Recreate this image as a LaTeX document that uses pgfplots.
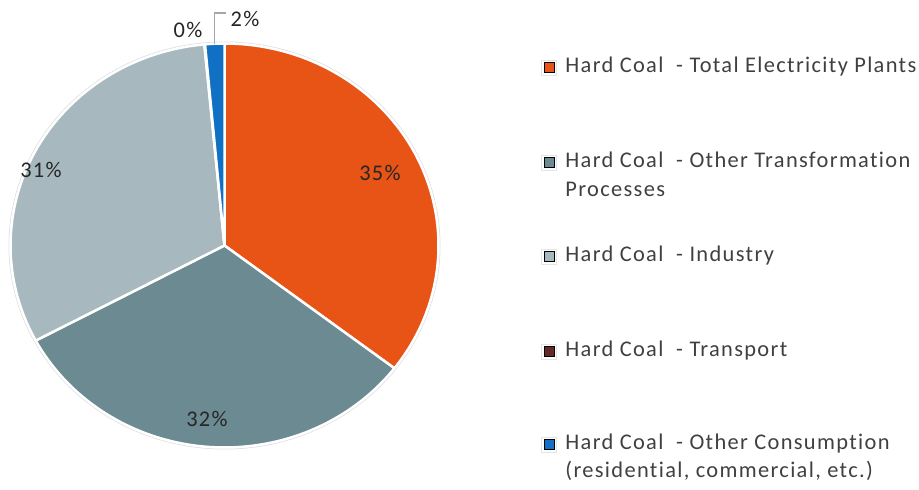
\documentclass[border=0pt]{standalone}
\usepackage{pgfplots}
\pgfplotsset{compat=1.18}
\usepackage{fontspec}
\setmainfont[LetterSpace=6, Ligatures=NoCommon]{Carlito}
\definecolor{cOrange}{HTML}{E85316}
\definecolor{cSteel}{HTML}{6C8A92}
\definecolor{cLight}{HTML}{A7B9BF}
\definecolor{cBrown}{HTML}{652828}
\definecolor{cBlue}{HTML}{1071C4}
\definecolor{cText}{HTML}{404040}
\definecolor{cLbl}{HTML}{262626}
% shares in percent
\def\pA{35.4}  % Total Electricity Plants
\def\pB{31.8}  % Other Transformation Processes
\def\pC{31.3}  % Industry
\def\pD{0.05}  % Transport
\def\pE{1.45}  % Other Consumption
\def\cx{224.5}\def\cy{245.5}\def\rx{214}\def\ry{202}
\tikzset{lbl/.style={font=\fontsize{11.2}{14.5}\selectfont, text=cText, inner sep=0pt},
  dl/.style={lbl, text=cLbl}}
\begin{document}
\begin{tikzpicture}
\begin{axis}[x=0.5pt, y=0.5pt,
  xmin=0, xmax=919, ymin=0, ymax=490, y dir=reverse,
  axis lines=none, clip=false]
% outer faint outline
\addplot[draw=gray!25, line width=0.5pt, domain=0:360, samples=181]
  ({\cx+(\rx+1.5)*sin(x)}, {\cy-(\ry+1.5)*cos(x)});
\addplot[fill=cOrange, draw=white, line width=1.25pt, line join=round, domain=0:{3.6*\pA}, samples=80]
  ({\cx+\rx*sin(x)}, {\cy-\ry*cos(x)}) -- (axis cs:\cx,\cy) -- cycle;
\addplot[fill=cSteel, draw=white, line width=1.25pt, line join=round, domain={3.6*\pA}:{3.6*(\pA+\pB)}, samples=80]
  ({\cx+\rx*sin(x)}, {\cy-\ry*cos(x)}) -- (axis cs:\cx,\cy) -- cycle;
\addplot[fill=cLight, draw=white, line width=1.25pt, line join=round, domain={3.6*(\pA+\pB)}:{3.6*(\pA+\pB+\pC)}, samples=80]
  ({\cx+\rx*sin(x)}, {\cy-\ry*cos(x)}) -- (axis cs:\cx,\cy) -- cycle;
\addplot[fill=cBrown, draw=white, line width=1.25pt, line join=round, domain={3.6*(\pA+\pB+\pC)}:{3.6*(\pA+\pB+\pC+\pD)}, samples=2]
  ({\cx+\rx*sin(x)}, {\cy-\ry*cos(x)}) -- (axis cs:\cx,\cy) -- cycle;
\addplot[fill=cBlue, draw=white, line width=1.25pt, line join=round, domain={3.6*(\pA+\pB+\pC+\pD)}:360, samples=10]
  ({\cx+\rx*sin(x)}, {\cy-\ry*cos(x)}) -- (axis cs:\cx,\cy) -- cycle;
% data labels
\node[dl] at (axis cs:380,173) {35\%};
\node[dl] at (axis cs:207,419) {32\%};
\node[dl] at (axis cs:41,170) {31\%};
\node[dl] at (axis cs:188,29.5) {0\%};
\node[dl] at (axis cs:245,19) {2\%};
\draw[color=gray!70, line width=0.75pt] (axis cs:214.5,44) -- (axis cs:214.5,13) -- (axis cs:226,13);
% legend
\addplot[only marks, mark=square*, mark size=3.75pt, mark options={fill=white, draw=gray!20, line width=0.4pt}]
  coordinates {(549,67.5) (549,162.5) (549,256.5) (549,351.5) (549,444.5)};
\addplot[only marks, mark=square*, mark size=2.5pt, mark options={fill=cOrange, draw=none}] coordinates {(549,67.5)};
\addplot[only marks, mark=square*, mark size=2.5pt, mark options={fill=cSteel, draw=none}] coordinates {(549,162.5)};
\addplot[only marks, mark=square*, mark size=2.5pt, mark options={fill=cLight, draw=none}] coordinates {(549,256.5)};
\addplot[only marks, mark=square*, mark size=2.5pt, mark options={fill=cBrown, draw=none}] coordinates {(549,351.5)};
\addplot[only marks, mark=square*, mark size=2.5pt, mark options={fill=cBlue, draw=none}] coordinates {(549,444.5)};
\node[lbl, anchor=base west] at (axis cs:565,73) {Hard Coal\ \ - Total Electricity Plants};
\node[lbl, anchor=base west] at (axis cs:565,168) {Hard Coal\ \ - Other Transformation};
\node[lbl, anchor=base west] at (axis cs:565,197) {Processes};
\node[lbl, anchor=base west] at (axis cs:565,262) {Hard Coal\ \ - Industry};
\node[lbl, anchor=base west] at (axis cs:565,357) {Hard Coal\ \ - Transport};
\node[lbl, anchor=base west] at (axis cs:565,450) {Hard Coal\ \ - Other Consumption};
\node[lbl, anchor=base west] at (axis cs:565,478) {(residential, commercial, etc.)};
\end{axis}
\pgfresetboundingbox
\path (current axis.south west) rectangle (current axis.north east);
\end{tikzpicture}
\end{document}
